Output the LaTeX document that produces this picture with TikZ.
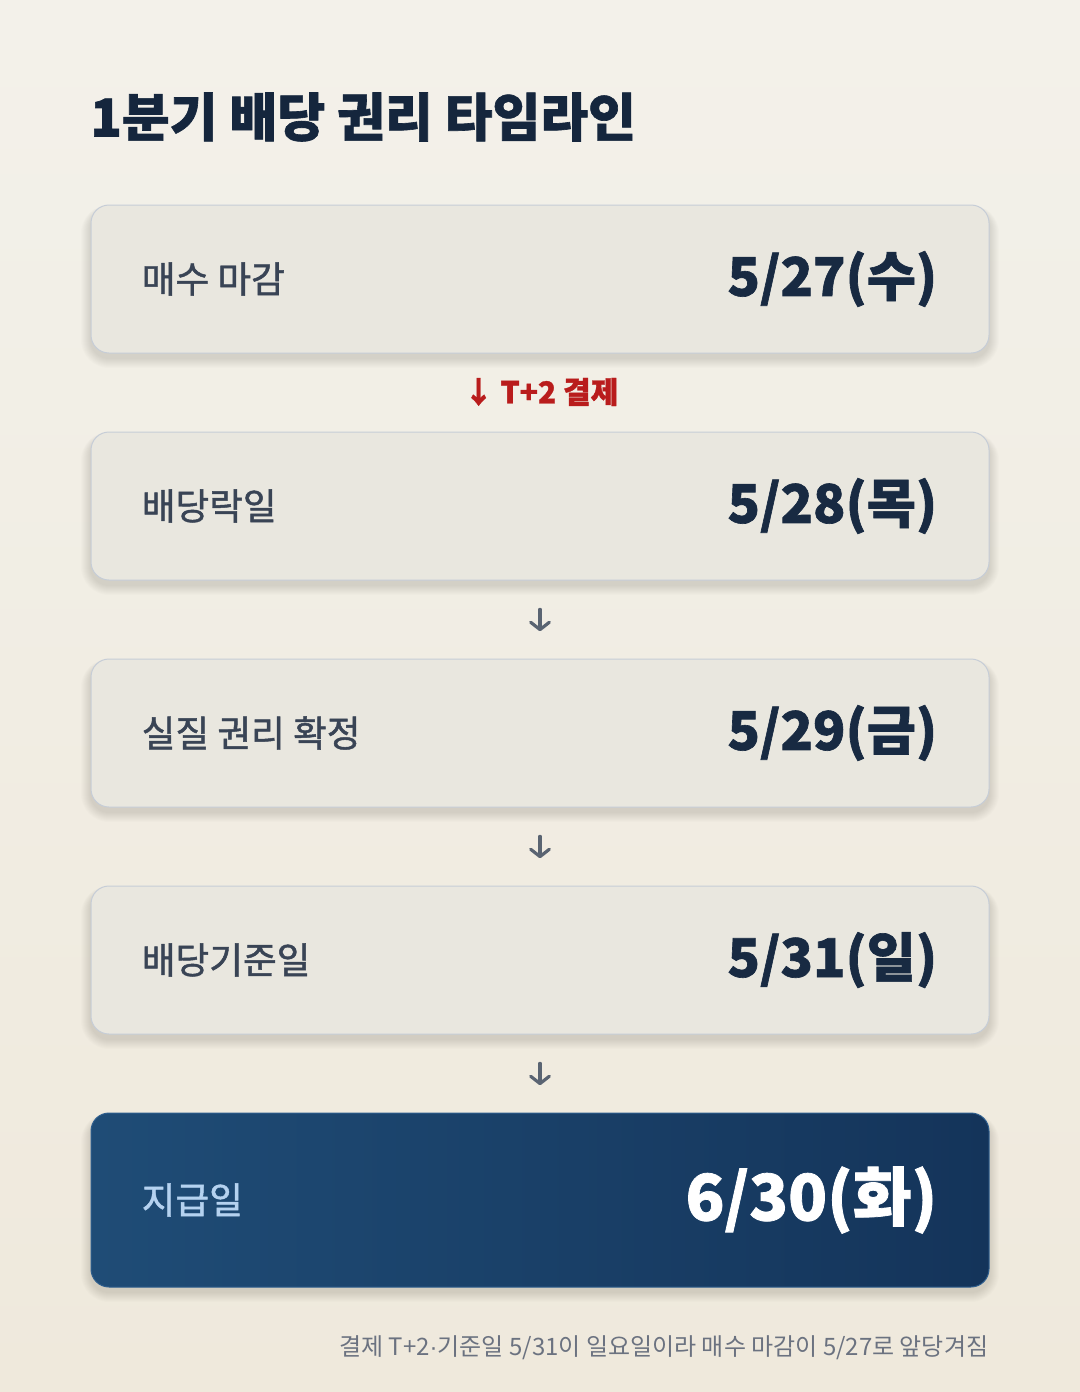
\documentclass[tikz,border=0pt]{standalone}
\usepackage{fontspec}
\setmainfont{Noto Sans CJK KR}
\newfontfamily\kr{Noto Sans CJK KR}
\newfontfamily\krmed{Noto Sans CJK KR}[FakeBold=1.3]
\newfontfamily\krheavy{Noto Sans CJK KR}[BoldFeatures={FakeBold=1.2}]
\newfontfamily\dotfont{Liberation Sans}
\usetikzlibrary{arrows.meta,calc}
\definecolor{bgtop}{HTML}{F3F1EA}
\definecolor{bgbot}{HTML}{EFE9DC}
\definecolor{cardfill}{HTML}{E9E7DF}
\definecolor{cardline}{HTML}{C6CDD7}
\definecolor{lblcol}{HTML}{394455}
\definecolor{datecol}{HTML}{182A42}
\definecolor{titlecol}{HTML}{15263D}
\definecolor{redcol}{HTML}{B91C1C}
\definecolor{arrcol}{HTML}{5A6472}
\definecolor{finA}{HTML}{1F4C76}
\definecolor{finB}{HTML}{14345A}
\definecolor{finline}{HTML}{2E5E8E}
\definecolor{finlbl}{HTML}{B5D2F0}
\definecolor{footcol}{HTML}{6B7280}
\newcommand{\cardshadow}[3]{%
  \foreach \r in {1,...,10}{%
    \pgfmathsetmacro\rc{13.5+0.75*\r}%
    \fill[black,opacity=0.013,rounded corners=\rc pt]
      (#1-449-\r,#2-#3/2+5-0.5*\r) rectangle (#1+449+\r,#2+#3/2+5+\r);
  }%
}
\begin{document}
\begin{tikzpicture}[x=0.75pt,y=-0.75pt,
  card/.style={draw=cardline,line width=0.75pt,fill=cardfill,rounded corners=13.5pt,
    minimum width=673.5pt,minimum height=111pt,inner sep=0pt},
  finalcard/.style={draw=finline,line width=0.75pt,left color=finA,right color=finB,rounded corners=13.5pt,
    minimum width=673.5pt,minimum height=130.5pt,inner sep=0pt},
  lbl/.style={font=\krmed\fontsize{27.5}{32}\selectfont,text=lblcol,inner sep=0pt},
  dat/.style={font=\krheavy\bfseries\fontsize{40}{48}\selectfont,text=datecol,inner sep=0pt},
  red/.style={font=\krheavy\bfseries\fontsize{22.5}{27}\selectfont,text=redcol,inner sep=0pt},
  foot/.style={font=\kr\fontsize{18}{21}\selectfont,text=footcol,inner sep=0pt},
  garrow/.style={draw=arrcol,line width=2.4pt,line cap=round,-{Straight Barb[length=5.5pt,width=14pt,line cap=round,line join=round]}}
]
\useasboundingbox (0,0) rectangle (1080,1392);
\shade[top color=bgtop,bottom color=bgbot] (0,0) rectangle (1080,1392);

\node[anchor=west,inner sep=0pt,text=titlecol,font=\krheavy\bfseries\fontsize{39}{46}\selectfont] (ttl) at (90,117) {1분기 배당 권리 타임라인};

\cardshadow{540}{279}{148}
\cardshadow{540}{506}{148}
\cardshadow{540}{733}{148}
\cardshadow{540}{960}{148}
\cardshadow{540}{1200}{174}

\node[card] (b1) at (540,279) {};
\node[card] (b2) at (540,506) {};
\node[card] (b3) at (540,733) {};
\node[card] (b4) at (540,960) {};
\node[finalcard] (b5) at (540,1200) {};

\node[lbl,anchor=west] (l1) at ([xshift=38.25pt]b1.west) {매수 마감};
\node[dat,anchor=east] (d1) at ([xshift=-39pt]b1.east) {5/27(수)};
\node[lbl,anchor=west] (l2) at ([xshift=38.25pt]b2.west) {배당락일};
\node[dat,anchor=east] (d2) at ([xshift=-39pt]b2.east) {5/28(목)};
\node[lbl,anchor=west] (l3) at ([xshift=38.25pt]b3.west) {실질 권리 확정};
\node[dat,anchor=east] (d3) at ([xshift=-39pt]b3.east) {5/29(금)};
\node[lbl,anchor=west] (l4) at ([xshift=38.25pt]b4.west) {배당기준일};
\node[dat,anchor=east] (d4) at ([xshift=-39pt]b4.east) {5/31(일)};
\node[lbl,anchor=west,text=finlbl] (l5) at ([xshift=38.25pt]b5.west) {지급일};
\node[dat,anchor=east,text=white,font=\krheavy\bfseries\fontsize{48}{56}\selectfont] (d5) at ([xshift=-39pt]b5.east) {6/30(화)};

\node[red] (t2) at (541,392) {↓ T+2 결제};

\path (b2.south) -- (b3.north) coordinate[pos=0.37] (a2s) coordinate[pos=0.65] (a2e);
\path (b3.south) -- (b4.north) coordinate[pos=0.37] (a3s) coordinate[pos=0.65] (a3e);
\path (b4.south) -- (b5.north) coordinate[pos=0.37] (a4s) coordinate[pos=0.65] (a4e);
\draw[garrow] (a2s) -- (a2e);
\draw[garrow] (a3s) -- (a3e);
\draw[garrow] (a4s) -- (a4e);

\node[foot,anchor=east] (fn) at ([xshift=-0.75pt,yshift=-45pt]b5.south east) {결제 T+2{\dotfont ·}기준일 5/31이 일요일이라 매수 마감이 5/27로 앞당겨짐};
\end{tikzpicture}
\end{document}
